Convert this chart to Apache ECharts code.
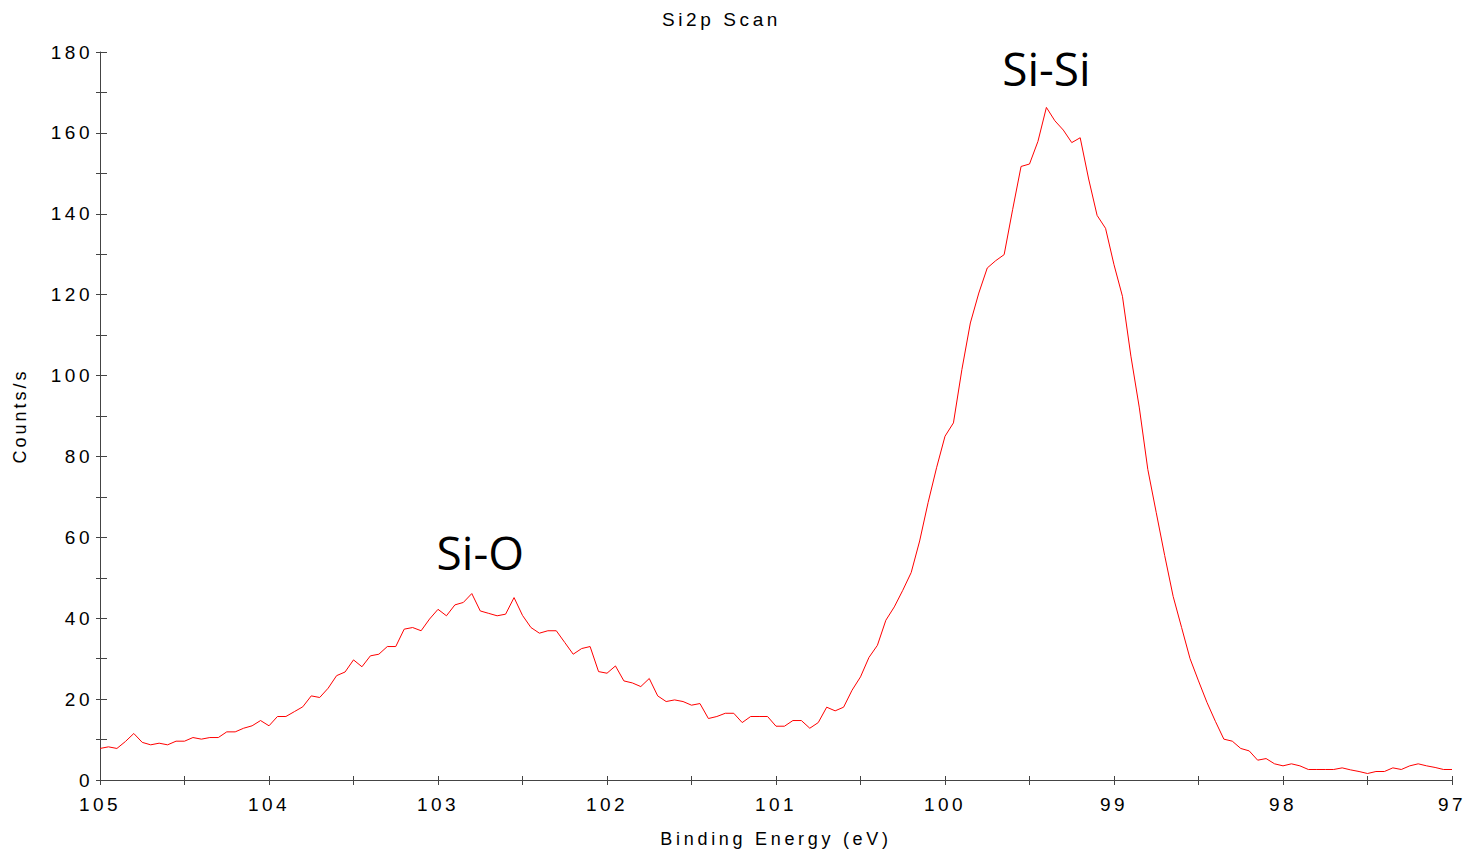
<!DOCTYPE html>
<html>
<head>
<meta charset="utf-8">
<script src="https://cdn.jsdelivr.net/npm/echarts@6/dist/echarts.min.js"></script>
<style>
  html, body { margin: 0; padding: 0; background: #fff; }
  #chart { width: 1466px; height: 853px; }
</style>
</head>
<body>
<div id="chart"></div>
<script>
// Si2p scan, binding energy sampled every 0.05 eV from 105 down to 97
var eStart = 105;
var eStep = 0.05;

// counts/s, in order of falling binding energy
var counts = [
  // 105.00 .. 103.30
  7.8, 8.2, 7.8, 9.5, 11.5, 9.3, 8.7, 9.1, 8.7, 9.6,
  9.6, 10.5, 10.1, 10.5, 10.5, 11.9, 11.9, 12.8, 13.4, 14.7,
  13.4, 15.7, 15.7, 16.9, 18.1, 20.8, 20.4, 22.7, 25.8, 26.7,
  29.7, 28.0, 30.7, 31.1, 33.0,
  // 103.25 .. 101.60
  33.0, 37.3, 37.7, 36.9, 39.8, 42.2, 40.6, 43.3, 43.9, 46.1,
  41.8, 41.2, 40.6, 41.0, 45.1, 40.7, 37.7, 36.3, 36.9, 36.9,
  34.0, 31.1, 32.5, 33.0, 26.8, 26.4, 28.2, 24.5, 24.0, 23.1,
  25.1, 20.8, 19.4, 19.8,
  // 101.55 .. 100.20
  19.4, 18.5, 18.9, 15.2, 15.7, 16.5, 16.5, 14.2, 15.7, 15.7,
  15.7, 13.3, 13.3, 14.7, 14.7, 12.8, 14.2, 18.0, 17.1, 18.0,
  22.2, 25.5, 30.3, 33.3, 39.5, 42.8, 46.9, 51.3,
  // 100.15 .. 98.70
  59.1, 68.6, 77.2, 85.0, 88.3, 101.5, 113.0, 120.4, 126.6, 128.4,
  129.9, 141.0, 151.7, 152.3, 157.9, 166.3, 163.0, 160.7, 157.6, 158.8,
  148.6, 139.6, 136.4, 127.4, 119.6, 104.8, 92.0, 76.8, 66.1, 55.5,
  // 98.65 .. 97.00
  45.4, 37.7, 30.0, 24.5, 19.2, 14.5, 10.1, 9.6, 7.8, 7.2,
  4.9, 5.3, 4.0, 3.5, 4.0, 3.5, 2.6, 2.6, 2.6, 2.6,
  3.0, 2.5, 2.1, 1.6, 2.1, 2.1, 3.0, 2.6, 3.5, 4.0,
  3.5, 3.1, 2.6, 2.6
];

// peak labels: [text, binding energy, counts/s]
var notes = [
  ['Si-Si', 99.4, 176.1],
  ['Si-O', 102.75, 56.3]
];

var xMin = 97, xMax = 105, xStep = 0.5;
var yMin = 0, yMax = 180, yStep = 10;

var points = counts.map(function(v, i) {
  return [+(eStart - i * eStep).toFixed(2), v];
});

var axisGrey = '#444';
var labelFont = 'Liberation Sans';

var chart = echarts.init(document.getElementById('chart'), null, { renderer: 'svg' });
chart.setOption({
  animation: false,
  title: {
    text: 'Si2p Scan',
    left: 657,
    top: 5,
    textStyle: { fontSize: 19, fontWeight: 'normal', color: '#000', fontFamily: labelFont }
  },
  grid: { left: 100, right: 14, top: 52, bottom: 72 },
  xAxis: [{
    type: 'value',
    min: xMin, max: xMax, interval: xStep,
    inverse: true,
    name: 'Binding Energy (eV)',
    nameLocation: 'middle',
    nameGap: 50,
    nameTextStyle: { fontSize: 18, color: '#000', fontFamily: labelFont },
    axisLine: { lineStyle: { color: axisGrey, width: 1 } },
    axisTick: { inside: false, length: 5, lineStyle: { color: axisGrey } },
    axisLabel: {
      color: '#000', fontSize: 19, fontFamily: labelFont, margin: 15,
      formatter: function(v) { return v % 1 === 0 ? String(v) : ''; }
    },
    splitLine: { show: false }
  }, {
    // inner half of the crossing ticks
    type: 'value',
    position: 'bottom',
    min: xMin, max: xMax, interval: xStep,
    inverse: true,
    axisLine: { show: false },
    axisTick: { inside: true, length: 4, lineStyle: { color: axisGrey } },
    axisLabel: { show: false },
    splitLine: { show: false }
  }],
  yAxis: [{
    type: 'value',
    min: yMin, max: yMax, interval: yStep,
    name: 'Counts/s',
    nameLocation: 'middle',
    nameGap: 71,
    nameTextStyle: { fontSize: 18, color: '#000', fontFamily: labelFont },
    axisLine: { show: true, lineStyle: { color: axisGrey, width: 1 } },
    axisTick: { show: true, inside: false, length: 4, lineStyle: { color: axisGrey } },
    axisLabel: {
      color: '#000', fontSize: 19, fontFamily: labelFont, margin: 7,
      formatter: function(v) { return v % 20 === 0 ? String(v) : ''; }
    },
    splitLine: { show: false }
  }, {
    type: 'value',
    position: 'left',
    min: yMin, max: yMax, interval: yStep,
    axisLine: { show: false },
    axisTick: { show: true, inside: true, length: 7, lineStyle: { color: axisGrey } },
    axisLabel: { show: false },
    splitLine: { show: false }
  }],
  series: [{
    type: 'line',
    xAxisIndex: 0,
    yAxisIndex: 0,
    data: points,
    showSymbol: false,
    lineStyle: { color: '#ff0000', width: 1 },
    itemStyle: { color: '#ff0000' },
    markPoint: {
      symbol: 'circle',
      symbolSize: 1,
      itemStyle: { color: 'transparent' },
      label: {
        show: true,
        position: 'inside',
        color: '#000',
        fontSize: 46,
        fontFamily: 'Open Sans',
        formatter: function(p) { return p.name; }
      },
      data: notes.map(function(n) {
        return { name: n[0], coord: [n[1], n[2]] };
      })
    }
  }]
});

// the original software spreads its axis lettering out
function spaceText() {
  var nodes = document.querySelectorAll('#chart text');
  for (var i = 0; i < nodes.length; i++) {
    var s = nodes[i].textContent;
    var ls = '3.5px';
    if (s === 'Si2p Scan') ls = '3.6px';
    else if (s === 'Binding Energy (eV)') ls = '3.7px';
    else if (s === 'Counts/s') ls = '3px';
    else if (s === 'Si-Si' || s === 'Si-O') ls = '0px';
    nodes[i].style.letterSpacing = ls;
  }
}
spaceText();
chart.on('finished', spaceText);
window.addEventListener('resize', function() { chart.resize(); });
</script>
</body>
</html>
